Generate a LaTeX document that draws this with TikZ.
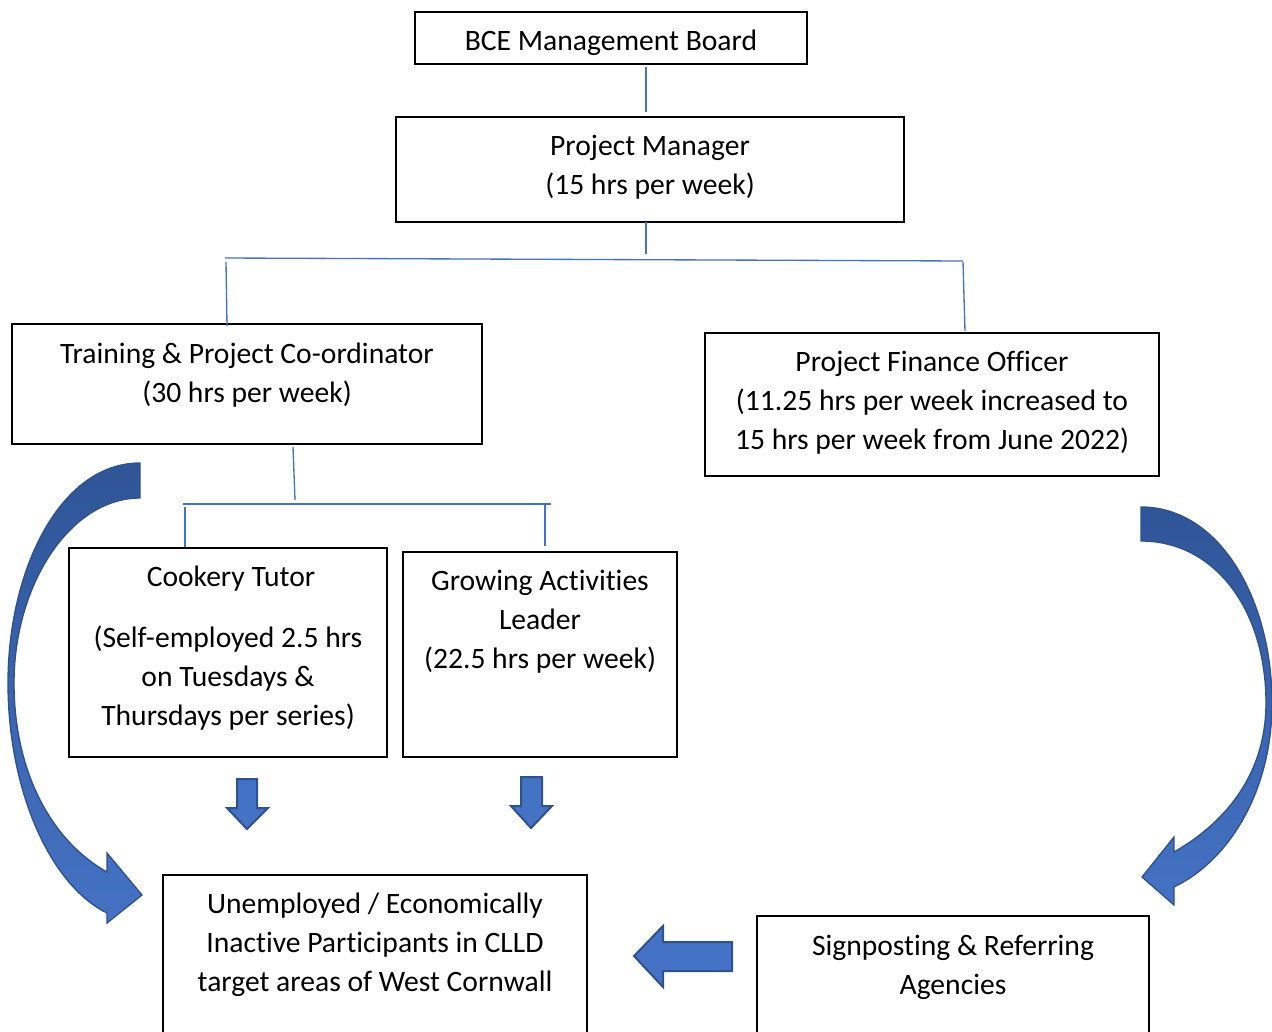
\documentclass[tikz,border=0pt]{standalone}
\usepackage{fontspec}
\setmainfont{Carlito}[Ligatures={NoCommon}]
\definecolor{conn}{RGB}{68,114,196}
\definecolor{afill}{RGB}{68,114,196}
\definecolor{adark}{RGB}{47,85,151}
\definecolor{aedge}{RGB}{47,82,143}
\tikzset{
  box/.style={draw=black, line width=1pt, fill=white},
  txt/.style={align=center, font=\fontsize{22.2}{29.25}\selectfont, inner sep=0pt},
  conline/.style={draw=conn, line width=1pt},
  blockarrow/.style={fill=afill, draw=aedge, line width=1.5pt, line join=miter},
  curvarrow/.style={top color=adark, bottom color=afill, draw=aedge, line width=1pt, line join=miter}
}
\begin{document}
\begin{tikzpicture}[x=0.75pt,y=-0.75pt]
\clip (0,0) rectangle (1272,1032);
\fill[white] (0,0) rectangle (1272,1032);
% boxes
\draw[box] (415,12) rectangle (807,64);
\node[txt] (bce) at (611,43) {BCE Management Board};
\draw[box] (396,117) rectangle (904,222);
\node[txt] (pm) at (650,167) {Project Manager\\(15 hrs per week)};
\draw[box] (12,324) rectangle (482,444);
\node[txt] (tpc) at (247,375) {Training \& Project Co-ordinator\\(30 hrs per week)};
\draw[box] (705,333) rectangle (1159,476);
\node[txt] (pfo) at (932,403) {Project Finance Officer\\(11.25 hrs per week increased to\\15 hrs per week from June 2022)};
\draw[box] (69,548) rectangle (387,757);
\node[txt] (ct) at (231,579) {Cookery Tutor};
\node[txt] (ctb) at (228,678) {(Self-employed 2.5 hrs\\on Tuesdays \&\\Thursdays per series)};
\draw[box] (403,552) rectangle (677,757);
\node[txt] (gal) at (540,622) {Growing Activities\\Leader\\(22.5 hrs per week)};
\draw[box] (163,875) rectangle (587,1060);
\node[txt] (unemp) at (375,945) {Unemployed / Economically\\Inactive Participants in CLLD\\target areas of West Cornwall};
\draw[box] (757,916) rectangle (1149,1060);
\node[txt] (sign) at (953,967) {Signposting \& Referring\\Agencies};
% connectors
\coordinate (c1) at (646,67);
\coordinate (c2) at (646,112);
\draw[conline] (c1) -- (c2);
\coordinate (c3) at (646,222);
\coordinate (c4) at (646,254);
\draw[conline] (c3) -- (c4);
\coordinate (h1) at (225,258);
\coordinate (h2) at (963,261);
\draw[conline] (h1) -- (h2);
\coordinate (v1a) at (226,262);
\coordinate (v1b) at (227,326);
\draw[conline] (v1a) -- (v1b);
\coordinate (v2a) at (963,262);
\coordinate (v2b) at (965,331);
\draw[conline] (v2a) -- (v2b);
\coordinate (d1) at (293,447);
\coordinate (d2) at (295,500);
\draw[conline] (d1) -- (d2);
\coordinate (g1) at (183,504);
\coordinate (g2) at (551,504);
\draw[conline] (g1) -- (g2);
\coordinate (k1a) at (185,507);
\coordinate (k1b) at (185,547);
\draw[conline] (k1a) -- (k1b);
\coordinate (k2a) at (545,503);
\coordinate (k2b) at (545,546);
\draw[conline] (k2a) -- (k2b);
% down arrows
\draw[blockarrow] (237,779) -- (257,779) -- (257,808) -- (268,808) -- (247,829) -- (227,808) -- (237,808) -- cycle;
\draw[blockarrow] (521,777) -- (542,777) -- (542,806) -- (552,806) -- (531,828) -- (511,806) -- (521,806) -- cycle;
% left arrow
\draw[blockarrow] (732,942) -- (663,942) -- (663,926) -- (634,956) -- (663,987) -- (663,971) -- (732,971) -- cycle;
% left curved arrow
\draw[curvarrow] (140,463) .. controls (60,463) and (8,570) .. (8,683)
  .. controls (8,790) and (50,885) .. (107,913) -- (107,923) -- (142,895) -- (107,853) -- (107,872)
  .. controls (50,840) and (14,770) .. (14,683)
  .. controls (14,585) and (70,498) .. (140,498) -- cycle;
% right curved arrow
\draw[curvarrow] (1141,507) .. controls (1220,507) and (1272,600) .. (1272,703)
  .. controls (1272,790) and (1230,860) .. (1174,887) -- (1174,905) -- (1142,877) -- (1174,837) -- (1174,852)
  .. controls (1230,820) and (1266,770) .. (1266,703)
  .. controls (1266,610) and (1215,541) .. (1141,541) -- cycle;
\end{tikzpicture}
\end{document}
